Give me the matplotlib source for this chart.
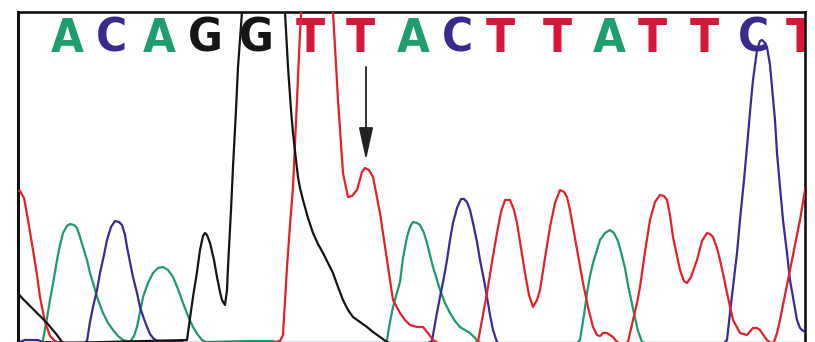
import os
import matplotlib
matplotlib.use("Agg")
import matplotlib.pyplot as plt
from matplotlib import font_manager as fm

# Sequencing trace: scan position vs. fluorescence signal for each dye channel
red_x = [18, 20, 24, 28, 33, 37, 40, 45, 50, 55, 60, 270, 280, 283, 287, 290, 293, 297, 300, 303,
         310, 318, 326, 333, 338, 343, 348, 352, 357, 362, 365, 369, 373, 380, 387, 393, 400, 405, 410, 417,
         423, 428, 433, 440, 470, 478, 482, 487, 492, 497, 501, 505, 510, 514, 517, 521, 525, 529, 533, 537,
         540, 545, 550, 555, 560, 564, 567, 570, 573, 578, 583, 588, 593, 597, 600, 603, 607, 610, 613, 617,
         623, 628, 633, 637, 640, 645, 650, 655, 660, 664, 667, 670, 673, 677, 680, 684, 687, 691, 697, 702,
         707, 710, 713, 717, 720, 724, 727, 733, 740, 747, 753, 757, 760, 764, 767, 771, 774, 777, 780, 785,
         790, 795, 800, 805, 808]
red_y = [150, 150, 143, 121, 91, 66, 44, 19, 5, 0, -2, -2, 0, 6, 74, 116, 154, 241, 308, 361,
         401, 411, 381, 329, 241, 168, 144, 145, 151, 169, 173, 171, 164, 128, 81, 41, 28, 21, 16, 14,
         14, 8, 1, -3, -3, -1, 21, 48, 79, 108, 129, 141, 141, 131, 118, 93, 68, 46, 34, 41,
         51, 83, 114, 138, 151, 149, 144, 131, 114, 86, 58, 34, 14, 6, 5, 8, 8, 6, 4, -1,
         -3, -1, 21, 38, 54, 89, 121, 139, 146, 145, 141, 126, 104, 85, 71, 60, 58, 64, 81, 100,
         108, 107, 104, 93, 81, 63, 48, 21, 8, 6, 13, 13, 11, 5, 1, -2, -1, 8, 21, 46,
         71, 96, 121, 151, 166]

green_x = [18, 40, 43, 47, 50, 54, 57, 60, 63, 67, 70, 74, 77, 80, 83, 87, 90, 94, 97, 103,
           108, 113, 118, 123, 130, 134, 137, 140, 143, 148, 153, 158, 163, 168, 173, 178, 183, 188, 193, 198,
           202, 206, 250, 273, 278, 384, 387, 390, 393, 396, 400, 403, 407, 410, 413, 417, 420, 424, 427, 430,
           433, 437, 440, 445, 450, 455, 460, 465, 470, 475, 478, 482, 577, 580, 584, 587, 590, 593, 597, 600,
           605, 610, 614, 618, 621, 625, 628, 632, 635, 638, 642, 646, 815]
green_y = [-2, -2, 1, 23, 41, 63, 81, 96, 108, 115, 117, 116, 113, 104, 94, 81, 68, 55, 44, 28,
           18, 11, 5, 1, -1, 5, 14, 29, 44, 58, 68, 73, 74, 71, 64, 52, 38, 25, 14, 6,
           1, -1, 0, 0, -2, -2, 1, 19, 34, 45, 59, 83, 104, 114, 119, 118, 116, 108, 98, 86,
           74, 61, 51, 38, 28, 20, 14, 11, 8, 3, -1, -2, -2, 1, 26, 48, 65, 78, 91, 101,
           108, 111, 108, 100, 89, 73, 56, 37, 23, 10, -1, -2, -2]

blue_x = [18, 22, 25, 38, 42, 84, 87, 90, 93, 97, 100, 104, 107, 111, 115, 119, 122, 125, 127, 130,
          133, 137, 140, 144, 147, 150, 153, 157, 160, 180, 184, 428, 432, 436, 440, 444, 447, 450, 453, 457,
          461, 464, 467, 470, 473, 477, 480, 484, 487, 490, 493, 497, 500, 723, 727, 730, 733, 737, 740, 744,
          747, 750, 753, 757, 760, 762, 765, 767, 770, 772, 775, 777, 780, 783, 787, 790, 794, 797, 800, 802,
          805, 810]
blue_y = [-2, 0, 1, 1, -1, -2, 0, 19, 34, 51, 68, 86, 101, 114, 120, 119, 116, 106, 94, 79,
          64, 48, 34, 22, 14, 7, 3, 0, 0, 0, -2, -2, 0, 23, 44, 64, 81, 101, 118, 133,
          142, 142, 139, 131, 118, 99, 81, 61, 44, 26, 11, -1, -3, -3, 1, 28, 54, 88, 121, 161,
          194, 229, 261, 291, 300, 301, 298, 294, 276, 254, 221, 188, 154, 121, 88, 61, 38, 21, 13, 11,
          9, 9]

black_x = [18, 22, 27, 32, 37, 42, 47, 52, 57, 62, 66, 180, 185, 187, 190, 193, 197, 200, 203, 205,
           207, 210, 214, 217, 220, 222, 225, 227, 228, 231, 233, 236, 238, 242, 246, 255, 270, 280, 285, 288,
           291, 293, 296, 298, 300, 303, 308, 313, 318, 323, 328, 333, 338, 343, 348, 353, 360, 367, 373, 380,
           387, 392, 815]
black_y = [48, 43, 38, 33, 28, 23, 18, 12, 6, -1, -3, -3, -2, 1, 23, 44, 69, 91, 105, 108,
           106, 98, 81, 64, 49, 41, 36, 51, 74, 131, 174, 231, 274, 329, 401, 441, 441, 391, 329, 274,
           231, 208, 181, 164, 153, 141, 123, 108, 97, 88, 78, 68, 54, 41, 31, 24, 19, 14, 9, 4,
           -1, -3, -3]

# Base calls and their scan positions
bases = "ACAGGTTACTTATTCT"
base_pos = [67, 111, 159, 205, 256, 310, 360, 413, 457, 500, 557, 609, 652, 704, 753, 800]

# Position of the variant peak marked with an arrow
marked_pos = 366
marked_top = 274
marked_tip = 181

trace_colors = {"red": "#e4202c", "green": "#1e9a6c", "blue": "#3a2a98", "black": "#141414"}
base_colors = {"A": "#1f9d6e", "C": "#3b2a8e", "G": "#161616", "T": "#d8163a"}


def narrow_bold_font():
    """Pick the narrowest bold face available for the base-call letters."""
    wanted = ["NotoSans-ExtraCondensedBold", "LiberationSansNarrow-Bold",
              "NotoSans-CondensedBold", "DejaVuSansCondensed-Bold"]
    files = [f.fname for f in fm.fontManager.ttflist]
    for stem in wanted:
        for path in files:
            if os.path.basename(path).split(".")[0] == stem:
                return dict(fontproperties=fm.FontProperties(fname=path, size=34))
    return dict(family="DejaVu Sans", fontstretch="condensed", fontweight="bold", fontsize=34)


letter_font = narrow_bold_font()

W, H = 815, 342
fig = plt.figure(figsize=(W / 100, H / 100), dpi=100)
ax = fig.add_axes([18 / W, 0, (805 - 18) / W, (H - 12) / H])
ax.set_xlim(18, 805)
ax.set_ylim(-1, 329)

for xs, ys, key in [(green_x, green_y, "green"), (blue_x, blue_y, "blue"),
                    (red_x, red_y, "red"), (black_x, black_y, "black")]:
    ax.plot(xs, ys, color=trace_colors[key], lw=1.6, solid_joinstyle="round",
            solid_capstyle="round", zorder=3)

for b, x in zip(bases, base_pos):
    ax.text(x, 289, b, color=base_colors[b], ha="center", va="baseline",
            zorder=2, clip_on=True, **letter_font)

ax.annotate("", xy=(marked_pos, marked_tip), xytext=(marked_pos, marked_top),
            arrowprops=dict(arrowstyle="-|>,head_length=1.0,head_width=0.22",
                            mutation_scale=20, color="#222222", lw=1.3,
                            shrinkA=0, shrinkB=0), zorder=4)

ax.set_xticks([])
ax.set_yticks([])
ax.spines["bottom"].set_visible(False)
ax.spines["left"].set_linewidth(2.2)
ax.spines["top"].set_linewidth(1.9)
ax.spines["right"].set_linewidth(1.9)
for s in ("left", "top", "right"):
    ax.spines[s].set_color("#111111")

fig.savefig("out.png", dpi=100)
